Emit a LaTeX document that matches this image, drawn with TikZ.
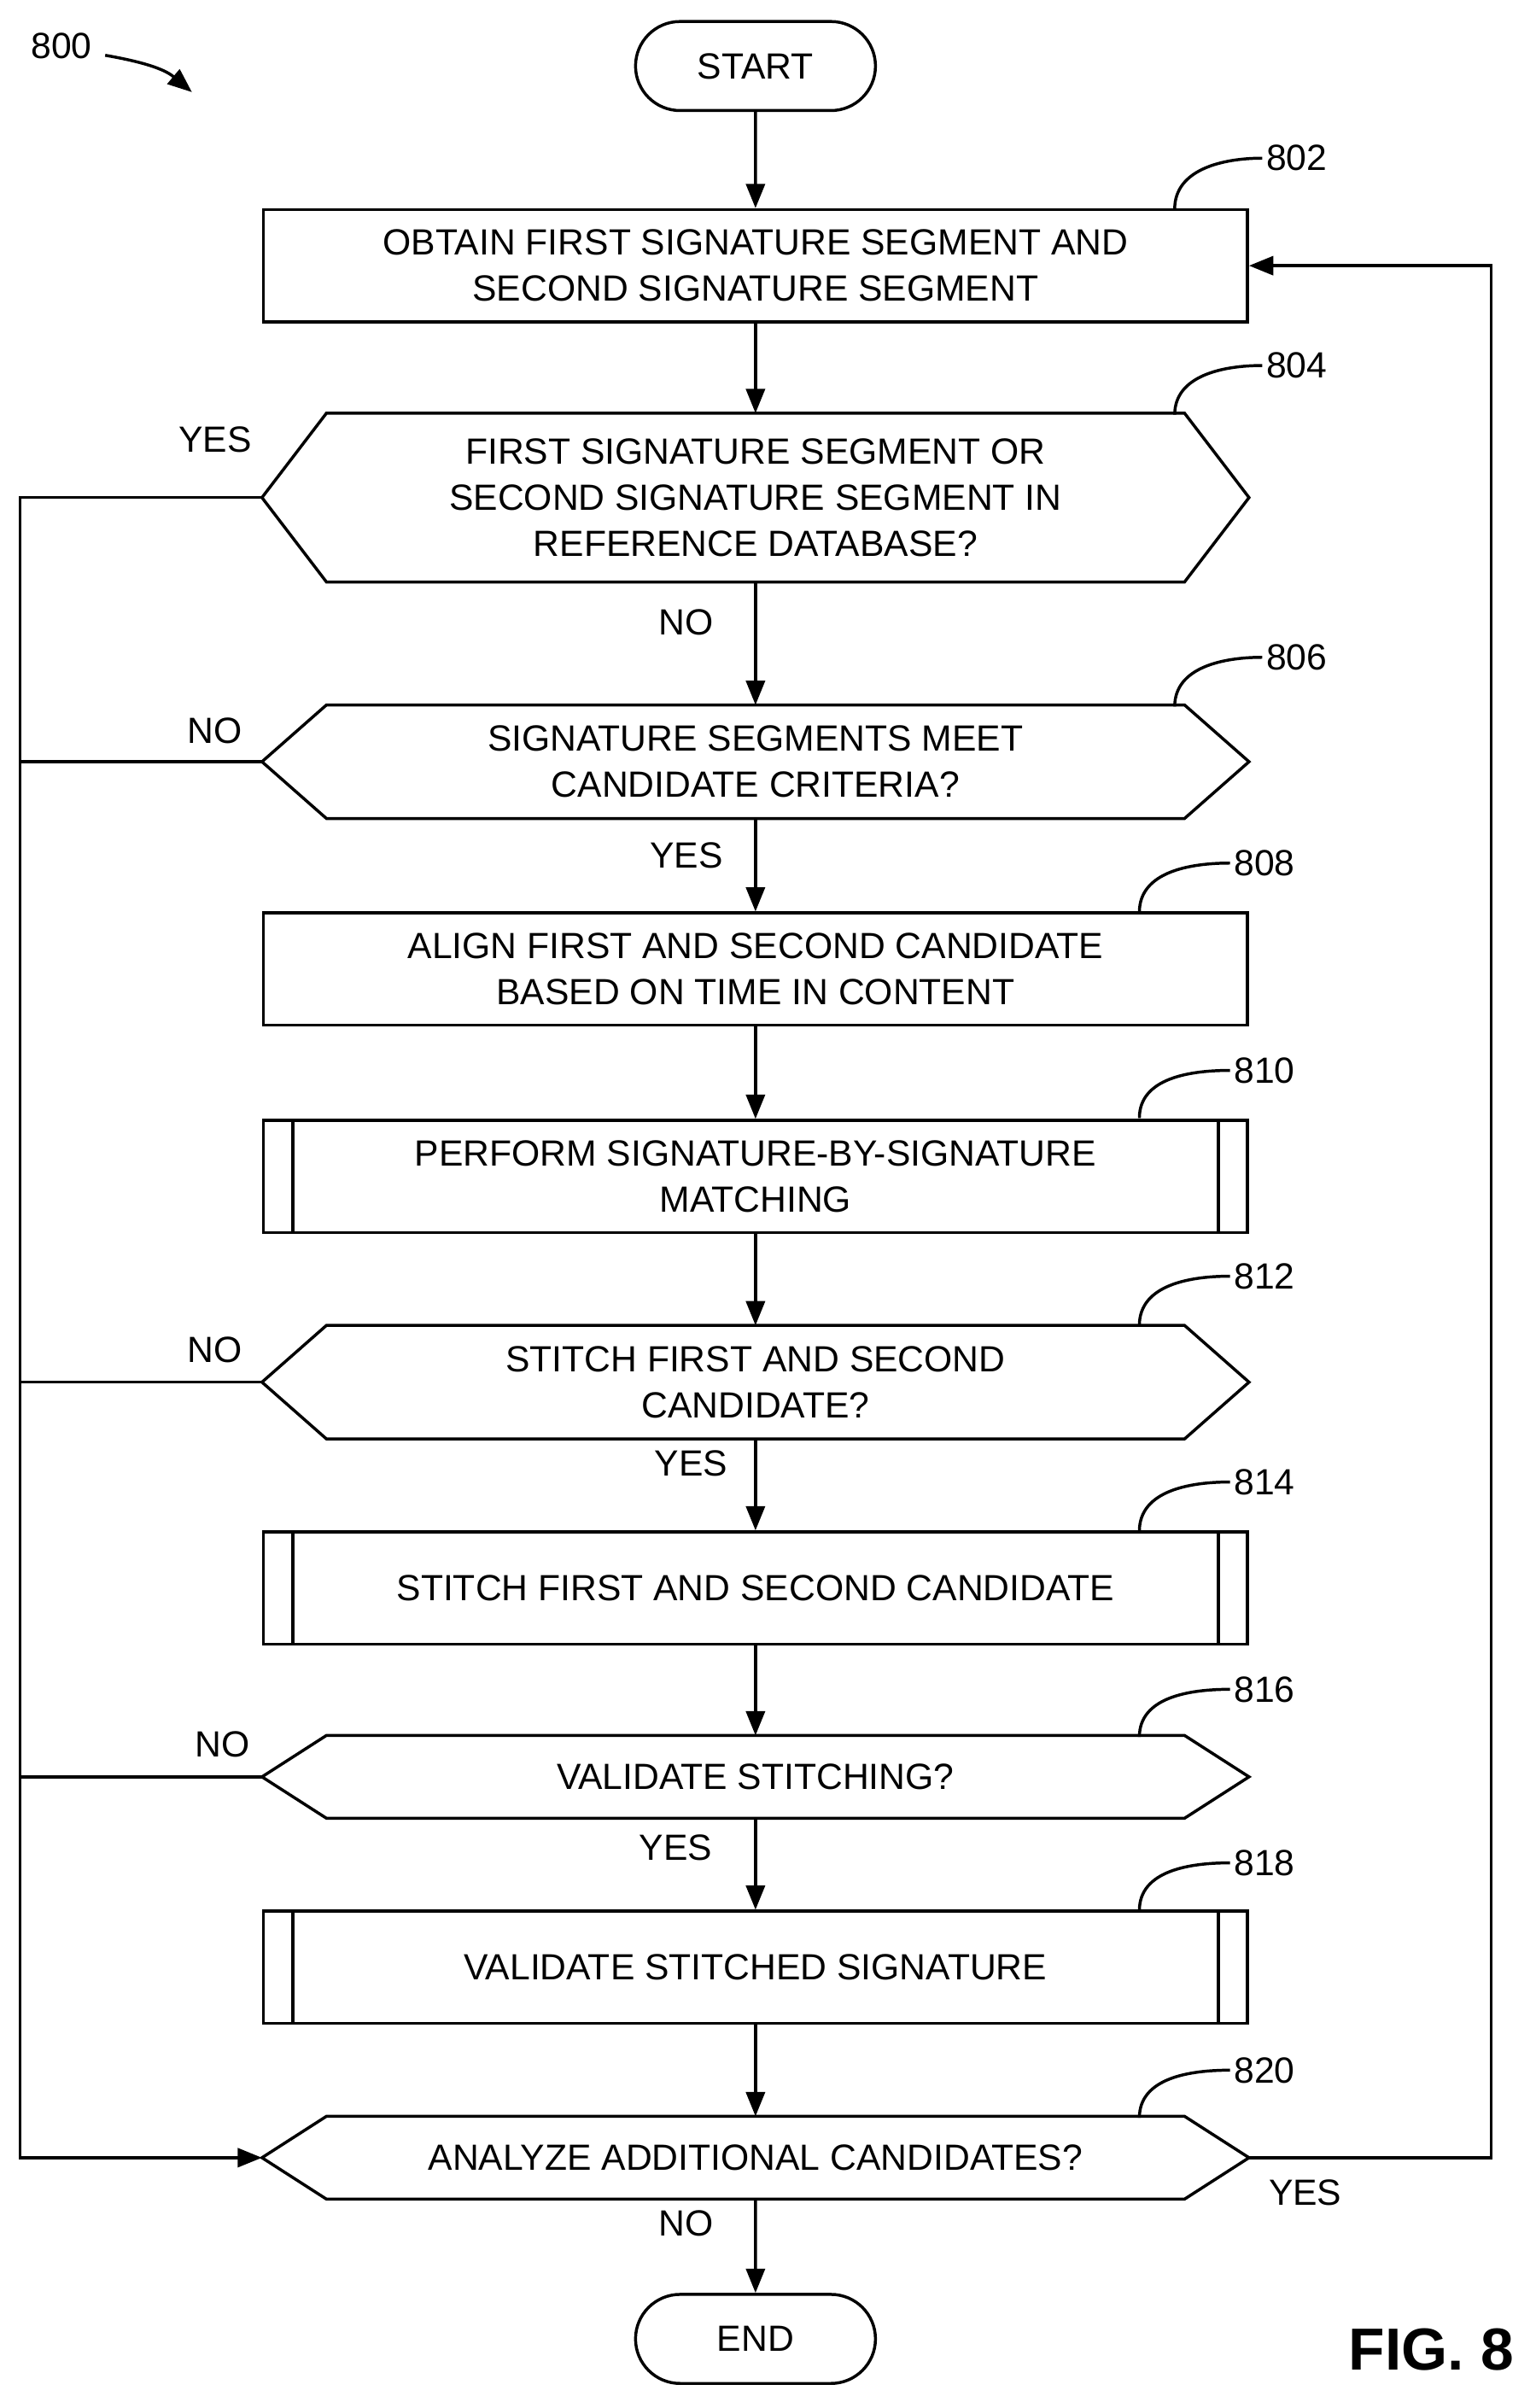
\documentclass[tikz,border=0pt]{standalone}
\usepackage{fontspec}
\setmainfont{Liberation Sans}
\usetikzlibrary{positioning, arrows.meta, shapes.misc}

\begin{document}
\begin{tikzpicture}[
        x=0.02cm, y=-0.02cm,
        font=\fontsize{13.5}{17}\selectfont,
        line width=1.1pt,
        >={Triangle[length=9pt, width=7pt]},
        term/.style={rounded rectangle, draw, minimum width=3.36cm, minimum height=1.16cm},
        proc/.style={rectangle, draw, minimum width=12.82cm, minimum height=1.46cm, align=center},
        test/.style={rectangle, minimum width=12.82cm, align=center},
        tag/.style={anchor=west, inner sep=1pt},
        ans/.style={inner sep=1pt}
    ]
        \useasboundingbox (0,0) rectangle (1000,1568);

        % Terminals
        \node[term] (start) at (492,43) {START};
        \node[term] (stop) at (492,1523) {END};

        % Process steps
        \node[proc] (s802) at (492,173) {OBTAIN FIRST SIGNATURE SEGMENT AND\\SECOND SIGNATURE SEGMENT};
        \node[proc] (s808) at (492,631) {ALIGN FIRST AND SECOND CANDIDATE\\BASED ON TIME IN CONTENT};
        \node[proc] (s810) at (492,766) {PERFORM SIGNATURE-BY-SIGNATURE\\MATCHING};
        \node[proc] (s814) at (492,1034) {STITCH FIRST AND SECOND CANDIDATE};
        \node[proc] (s818) at (492,1281) {VALIDATE STITCHED SIGNATURE};

        % Decisions
        \node[test, minimum height=2.16cm] (d804) at (492,324) {FIRST SIGNATURE SEGMENT OR\\SECOND SIGNATURE SEGMENT IN\\REFERENCE DATABASE?};
        \node[test, minimum height=1.44cm] (d806) at (492,496) {SIGNATURE SEGMENTS MEET\\CANDIDATE CRITERIA?};
        \node[test, minimum height=1.44cm] (d812) at (492,900) {STITCH FIRST AND SECOND\\CANDIDATE?};
        \node[test, minimum height=1.04cm] (d816) at (492,1157) {VALIDATE STITCHING?};
        \node[test, minimum height=1.04cm] (d820) at (492,1405) {ANALYZE ADDITIONAL CANDIDATES?};

        \foreach \d in {d804, d806, d812, d816, d820}
            \draw (\d.west) -- ([xshift=0.84cm]\d.north west) -- ([xshift=-0.84cm]\d.north east)
                -- (\d.east) -- ([xshift=-0.84cm]\d.south east) -- ([xshift=0.84cm]\d.south west) -- cycle;

        % Predefined process bars
        \foreach \s in {s810, s814, s818} {
            \draw ([xshift=0.4cm]\s.north west) -- ([xshift=0.4cm]\s.south west);
            \draw ([xshift=-0.4cm]\s.north east) -- ([xshift=-0.4cm]\s.south east);
        }

        % Main flow
        \draw[->] (start) -- (s802);
        \draw[->] (s802) -- (d804);
        \draw[->] (d804) -- (d806);
        \draw[->] (d806) -- (s808);
        \draw[->] (s808) -- (s810);
        \draw[->] (s810) -- (d812);
        \draw[->] (d812) -- (s814);
        \draw[->] (s814) -- (d816);
        \draw[->] (d816) -- (s818);
        \draw[->] (s818) -- (d820);
        \draw[->] (d820) -- (stop);

        % Left return line
        \coordinate (lt) at (13,324);
        \coordinate (lb) at (13,1405);
        \draw[->] (d804.west) -- (lt) -- (lb) -- (d820.west);
        \draw (d806.west) -- (13,496);
        \draw (d812.west) -- (13,900);
        \draw (d816.west) -- (13,1157);

        % Right loop back
        \coordinate (rb) at (971,1405);
        \coordinate (rt) at (971,173);
        \draw[->] (d820.east) -- (rb) -- (rt) -- (s802.east);

        % Branch labels
        \node[ans] at (140,286) {YES};
        \node[ans] at (140,476) {NO};
        \node[ans] at (140,879) {NO};
        \node[ans] at (145,1136) {NO};
        \node[ans] at (447,405) {NO};
        \node[ans] at (447,557) {YES};
        \node[ans] at (450,953) {YES};
        \node[ans] at (440,1203) {YES};
        \node[ans] at (850,1428) {YES};
        \node[ans] at (447,1448) {NO};

        % Reference numerals
        \node[tag] (t802) at (822,103) {802};
        \node[tag] (t804) at (822,238) {804};
        \node[tag] (t806) at (822,428) {806};
        \node[tag] (t808) at (801,562) {808};
        \node[tag] (t810) at (801,697) {810};
        \node[tag] (t812) at (801,831) {812};
        \node[tag] (t814) at (801,965) {814};
        \node[tag] (t816) at (801,1100) {816};
        \node[tag] (t818) at (801,1213) {818};
        \node[tag] (t820) at (801,1348) {820};
        \draw (765,136) to[out=90, in=180] (t802.west);
        \draw (765,270) to[out=90, in=180] (t804.west);
        \draw (765,460) to[out=90, in=180] (t806.west);
        \draw (742,594) to[out=90, in=180] (t808.west);
        \draw (742,728) to[out=90, in=180] (t810.west);
        \draw (742,863) to[out=90, in=180] (t812.west);
        \draw (742,997) to[out=90, in=180] (t814.west);
        \draw (742,1131) to[out=90, in=180] (t816.west);
        \draw (742,1244) to[out=90, in=180] (t818.west);
        \draw (742,1379) to[out=90, in=180] (t820.west);

        % Figure number
        \node[ans] (fig) at (40,30) {800};
        \draw[->] (fig.east) ++(6,6) to[out=-10, in=140] (125,60);
        \node[ans, font=\fontsize{22}{26}\selectfont\bfseries] (title) at (932,1530) {FIG. 8};
    \end{tikzpicture}
\end{document}
